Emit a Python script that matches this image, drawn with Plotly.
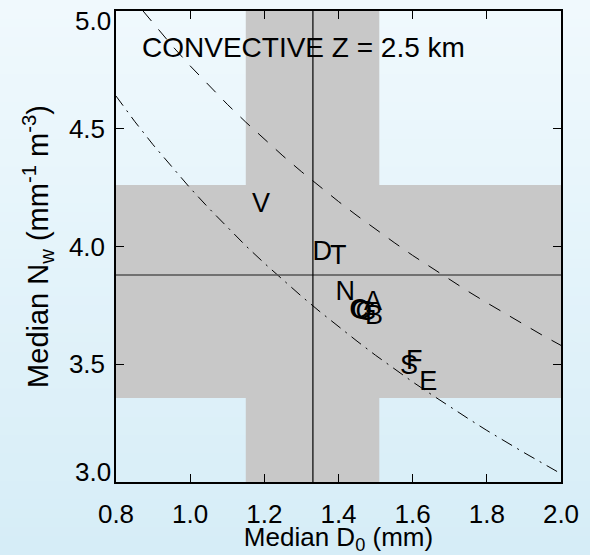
import plotly.graph_objects as go

# ---- data ----
d0_axis_range = [0.8, 2.0]
nw_axis_range = [3.0, 5.0]
x_ticks = [0.8, 1.0, 1.2, 1.4, 1.6, 1.8, 2.0]
y_ticks = [3.0, 3.5, 4.0, 4.5, 5.0]

median_d0 = 1.331
median_nw = 3.879
d0_band = [1.15, 1.51]
nw_band = [3.357, 4.261]

dash_d0 = [0.873, 0.9, 0.95, 1.0, 1.05, 1.1, 1.15, 1.2, 1.25, 1.3, 1.35, 1.4, 1.45,
           1.5, 1.55, 1.6, 1.65, 1.7, 1.75, 1.8, 1.85, 1.9, 1.95, 2.0]
dash_nw = [5.0, 4.948, 4.855, 4.767, 4.684, 4.604, 4.528, 4.455, 4.385, 4.318, 4.253,
           4.191, 4.131, 4.073, 4.017, 3.962, 3.910, 3.858, 3.809, 3.761, 3.714,
           3.668, 3.623, 3.580]

dashdot_d0 = [0.8, 0.85, 0.9, 0.95, 1.0, 1.05, 1.1, 1.15, 1.2, 1.25, 1.3, 1.35, 1.4,
              1.45, 1.5, 1.55, 1.6, 1.65, 1.7, 1.75, 1.8, 1.85, 1.9, 1.95, 2.0]
dashdot_nw = [4.639, 4.532, 4.432, 4.338, 4.248, 4.163, 4.081, 4.003, 3.929, 3.857,
              3.789, 3.723, 3.659, 3.598, 3.538, 3.481, 3.425, 3.372, 3.319, 3.269,
              3.219, 3.171, 3.125, 3.080, 3.035]

site_labels = ["V", "D", "T", "N", "C", "O", "G", "A", "B", "S", "F", "E"]
site_d0 = [1.191, 1.356, 1.399, 1.418, 1.455, 1.462, 1.474, 1.493, 1.496, 1.590, 1.604, 1.642]
site_nw = [4.176, 3.972, 3.955, 3.803, 3.726, 3.722, 3.718, 3.760, 3.700, 3.488, 3.510, 3.420]

title_text = "CONVECTIVE Z = 2.5 km"
x_title = "Median D<sub>0</sub> (mm)"
y_title = "Median N<sub>w</sub> (mm<sup>-1</sup> m<sup>-3</sup>)"

# ---- layout geometry ----
W, H = 590, 555
ML, MR, MT, MB = 116, 29, 11, 73
PW, PH = W - ML - MR, H - MT - MB
FONT = "Liberation Sans, Arial, Helvetica, sans-serif"
TICKFONT = dict(family=FONT, size=26, color="black")

shapes = []
# background gradient (page)
n = 60
top_rgb = (240, 249, 253)
bot_rgb = (214, 237, 247)
for i in range(n):
    f = i / (n - 1)
    c = tuple(round(top_rgb[k] + (bot_rgb[k] - top_rgb[k]) * f) for k in range(3))
    py0 = i * H / n
    py1 = (i + 1) * H / n + 1
    shapes.append(dict(type="rect", xref="paper", yref="paper", layer="below",
                       x0=-ML / PW, x1=(W - ML) / PW,
                       y0=1 - (py1 - MT) / PH, y1=1 - (py0 - MT) / PH,
                       line=dict(width=0), fillcolor="rgb(%d,%d,%d)" % c))
# gray bands
band_col = "#c8c8c8"
shapes.append(dict(type="rect", xref="x", yref="paper", layer="below",
                   x0=d0_band[0], x1=d0_band[1], y0=0, y1=1,
                   line=dict(width=0), fillcolor=band_col))
shapes.append(dict(type="rect", xref="paper", yref="y", layer="below",
                   x0=0, x1=1, y0=nw_band[0], y1=nw_band[1],
                   line=dict(width=0), fillcolor=band_col))
# median lines
shapes.append(dict(type="line", xref="paper", yref="y", x0=0, x1=1,
                   y0=median_nw, y1=median_nw, line=dict(color="#555555", width=1.5)))
shapes.append(dict(type="line", xref="x", yref="paper", x0=median_d0, x1=median_d0,
                   y0=0, y1=1, line=dict(color="black", width=1.2)))

fig = go.Figure()
fig.add_trace(go.Scatter(x=dash_d0, y=dash_nw, mode="lines",
                         line=dict(color="black", width=1, dash="13px,11px"),
                         hoverinfo="skip", showlegend=False))
fig.add_trace(go.Scatter(x=dashdot_d0, y=dashdot_nw, mode="lines",
                         line=dict(color="black", width=1, dash="12px,6px,2px,6px"),
                         hoverinfo="skip", showlegend=False))
fig.add_trace(go.Scatter(x=site_d0, y=site_nw, mode="text", text=site_labels,
                         textposition="middle center",
                         textfont=dict(family=FONT, size=27, color="black"),
                         showlegend=False))

fig.add_annotation(x=0.865, y=4.843, xref="x", yref="y", text=title_text,
                   showarrow=False, xanchor="left", yanchor="middle",
                   font=dict(family=FONT, size=28, color="black"))

# end-of-axis y tick labels are kept inside the frame height (as in the reference)
y_tick_text = []
for v in y_ticks:
    if v in (nw_axis_range[0], nw_axis_range[1]):
        y_tick_text.append(" ")
        fig.add_annotation(x=0, xref="paper", y=v, yref="y", text="%.1f" % v,
                           showarrow=False, xanchor="right",
                           yanchor="top" if v == nw_axis_range[1] else "bottom",
                           xshift=-3, yshift=7 if v == nw_axis_range[1] else -7,
                           font=TICKFONT)
    else:
        y_tick_text.append("%.1f" % v)

axis_common = dict(showgrid=False, zeroline=False, showline=True, linecolor="black",
                   linewidth=1.5, mirror="ticks", ticks="inside", ticklen=8,
                   tickwidth=1, tickcolor="black", ticklabeloverflow="allow",
                   automargin=False, tickfont=TICKFONT)

fig.update_layout(
    width=W, height=H,
    margin=dict(l=ML, r=MR, t=MT, b=MB),
    paper_bgcolor="#e4f3fa", plot_bgcolor="rgba(0,0,0,0)",
    shapes=shapes,
    xaxis=dict(range=d0_axis_range, tickvals=x_ticks,
               ticktext=["%.1f" % v for v in x_ticks],
               ticklabelstandoff=8,
               title=dict(text=x_title, font=dict(family=FONT, size=26, color="black"),
                          standoff=0),
               **axis_common),
    yaxis=dict(range=nw_axis_range, tickvals=y_ticks,
               ticktext=y_tick_text,
               ticklabelstandoff=4,
               title=dict(text=y_title, font=dict(family=FONT, size=29, color="black"),
                          standoff=12),
               **axis_common),
    font=dict(family=FONT),
)

fig.write_html("out.html")
